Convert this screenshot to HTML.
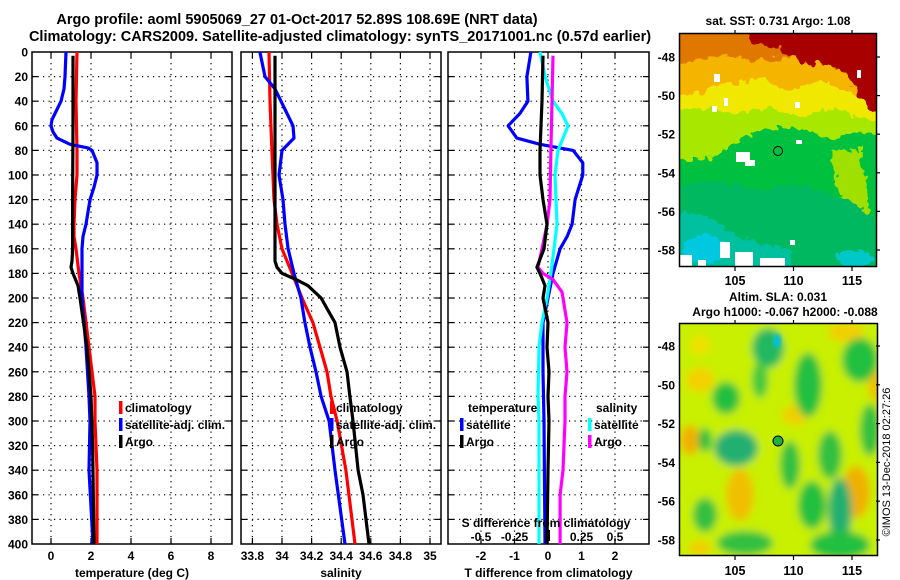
<!DOCTYPE html>
<html><head><meta charset="utf-8"><style>
html,body{margin:0;padding:0;background:#fff;}
svg{display:block;font-family:"Liberation Sans",sans-serif;font-weight:bold;}
</style></head><body>
<svg id="chart" width="900" height="580" viewBox="0 0 900 580" xmlns="http://www.w3.org/2000/svg">
<defs>
<clipPath id="clipMap1"><rect x="680" y="34" width="197" height="233"/></clipPath>
<clipPath id="clipMap2"><rect x="680" y="324" width="198" height="232"/></clipPath>
<filter id="rough1" x="-10%" y="-10%" width="120%" height="120%">
<feTurbulence type="fractalNoise" baseFrequency="0.12" numOctaves="2" seed="3" result="n"/>
<feDisplacementMap in="SourceGraphic" in2="n" scale="14" xChannelSelector="R" yChannelSelector="G"/>
</filter>
<filter id="blur1" x="-10%" y="-10%" width="120%" height="120%"><feGaussianBlur stdDeviation="2"/></filter>
<filter id="blur2" x="-10%" y="-10%" width="120%" height="120%"><feGaussianBlur stdDeviation="4"/></filter>
</defs>
<g id="titles" font-size="14.5" text-anchor="middle">
<text x="297" y="24">Argo profile: aoml 5905069_27 01-Oct-2017 52.89S 108.69E (NRT data)</text>
<text x="340" y="41">Climatology: CARS2009. Satellite-adjusted climatology: synTS_20171001.nc (0.57d earlier)</text>
</g>
<g id="panels"></g>

<!-- Map 1: SST -->
<g>
<text x="778" y="25" font-size="12" text-anchor="middle">sat. SST: 0.731 Argo: 1.08</text>
<g clip-path="url(#clipMap1)">
<g filter="url(#rough1)">
<rect x="670" y="24" width="220" height="260" fill="#00c040"/>
<path d="M670 24 H890 V140 L860 132 L830 140 L800 128 L760 128 L740 140 L710 158 L670 160 Z" fill="#a8e800"/>
<path d="M670 24 H890 V122 L860 118 L830 108 L800 118 L770 108 L740 112 L700 108 L670 112 Z" fill="#f0e800"/>
<path d="M670 24 H890 V100 L850 92 L820 80 L790 90 L760 80 L720 85 L690 95 L670 92 Z" fill="#f4b400"/>
<path d="M670 24 H890 V60 L840 55 L800 55 L760 60 L720 55 L690 62 L670 60 Z" fill="#e07800"/>
<path d="M750 24 H890 V120 L870 110 L860 95 L850 80 L830 65 L800 62 L780 50 L750 40 Z" fill="#a80000"/>
<path d="M830 150 L860 150 L870 200 L860 240 L845 225 L838 190 Z" fill="#a0e000"/>
<path d="M670 185 L720 180 L760 190 L800 185 L850 200 L890 230 V284 H670 Z" fill="#00b860"/>
<path d="M670 215 L700 212 L730 230 L760 245 L790 250 V284 H670 Z" fill="#00c0a0"/>
<ellipse cx="705" cy="248" rx="22" ry="14" fill="#00c8e0"/>
<ellipse cx="855" cy="258" rx="18" ry="8" fill="#00c8c8"/>
</g>
<rect x="680" y="255" width="12" height="12" fill="#fff"/>
<rect x="698" y="260" width="8" height="7" fill="#fff"/>
<rect x="720" y="242" width="10" height="16" fill="#fff"/>
<rect x="735" y="252" width="18" height="15" fill="#fff"/>
<rect x="760" y="258" width="25" height="9" fill="#fff"/>
<rect x="736" y="152" width="14" height="10" fill="#fff"/>
<rect x="745" y="160" width="10" height="6" fill="#fff"/>
<rect x="712" y="106" width="5" height="6" fill="#fff"/>
<rect x="714" y="74" width="6" height="8" fill="#fff"/>
<rect x="724" y="98" width="4" height="8" fill="#fff"/>
<rect x="796" y="140" width="6" height="4" fill="#fff"/>
<rect x="795" y="102" width="5" height="6" fill="#fff"/>
<rect x="857" y="70" width="4" height="8" fill="#fff"/>
<rect x="790" y="240" width="5" height="5" fill="#fff"/>
</g>
<rect x="679.5" y="33.5" width="197" height="233" fill="none" stroke="#000" stroke-width="1.5"/>
<circle cx="778" cy="151" r="4.5" fill="none" stroke="#000" stroke-width="1"/>
</g>

<!-- Map 2: SLA -->
<g>
<text x="778" y="301" font-size="12" text-anchor="middle">Altim. SLA: 0.031</text>
<text x="785" y="316" font-size="12" text-anchor="middle">Argo h1000: -0.067 h2000: -0.088</text>
<g clip-path="url(#clipMap2)">
<g filter="url(#blur2)">
<rect x="670" y="314" width="220" height="252" fill="#c8f000"/>
<ellipse cx="700" cy="380" rx="14" ry="12" fill="#f4d000"/>
<ellipse cx="690" cy="440" rx="10" ry="15" fill="#f0b000"/>
<ellipse cx="740" cy="495" rx="14" ry="26" fill="#f0c000"/>
<ellipse cx="856" cy="492" rx="14" ry="26" fill="#f0b000"/>
<ellipse cx="795" cy="415" rx="13" ry="10" fill="#f0d000"/>
<ellipse cx="846" cy="332" rx="18" ry="10" fill="#f0d000"/>
<ellipse cx="876" cy="385" rx="8" ry="16" fill="#f0c000"/>
<ellipse cx="700" cy="345" rx="10" ry="10" fill="#f0e000"/>
<ellipse cx="768" cy="348" rx="16" ry="20" fill="#20b860"/>
<ellipse cx="808" cy="385" rx="14" ry="32" fill="#20c040"/>
<ellipse cx="860" cy="360" rx="18" ry="22" fill="#20c040"/>
<ellipse cx="726" cy="398" rx="14" ry="16" fill="#20c040"/>
<ellipse cx="736" cy="448" rx="22" ry="18" fill="#20b070"/>
<ellipse cx="705" cy="440" rx="7" ry="12" fill="#20c040"/>
<ellipse cx="790" cy="465" rx="10" ry="24" fill="#30c040"/>
<ellipse cx="812" cy="505" rx="14" ry="24" fill="#20c040"/>
<ellipse cx="830" cy="455" rx="12" ry="24" fill="#30c040"/>
<ellipse cx="840" cy="510" rx="12" ry="32" fill="#20b070"/>
<ellipse cx="840" cy="545" rx="30" ry="14" fill="#20c040"/>
<ellipse cx="705" cy="515" rx="12" ry="17" fill="#30c040"/>
<ellipse cx="745" cy="543" rx="28" ry="12" fill="#30c040"/>
<ellipse cx="870" cy="430" rx="10" ry="26" fill="#30c040"/>
<ellipse cx="760" cy="380" rx="8" ry="18" fill="#40c840"/>
<ellipse cx="700" cy="548" rx="12" ry="8" fill="#f0d000"/>
</g>
<ellipse cx="777" cy="341" rx="4" ry="7" fill="#00c0e0" filter="url(#blur1)"/>
</g>
<rect x="679.5" y="323.5" width="198" height="232" fill="none" stroke="#000" stroke-width="1.5"/>
<circle cx="778" cy="441" r="5" fill="#20b040" stroke="#000" stroke-width="1"/>
<text x="890" y="462" font-size="11" font-weight="normal" text-anchor="middle" transform="rotate(-90 890 462)">©IMOS 13-Dec-2018 02:27:26</text>
</g>
<g id="maps-axes"></g>

<script>
// ---------- DATA ----------
var depthTicks = [0,20,40,60,80,100,120,140,160,180,200,220,240,260,280,300,320,340,360,380,400];
var tempTicks = [0,2,4,6,8];
var salTicks = [33.8,34,34.2,34.4,34.6,34.8,35];
var salTickLabels = ["33.8","34","34.2","34.4","34.6","34.8","35"];
var tdiffTicks = [-2,-1,0,1,2];
var sdiffTicks = [-0.5,-0.25,0.25,0.5];
var sdiffTickLabels = ["-0.5","-0.25","0.25","0.5"];
var latTicks = [-48,-50,-52,-54,-56,-58];
var lonTicks = [105,110,115];

var tempClimDepth = [0,40,80,100,120,140,150,160,180,200,240,280,300,340,400];
var tempClim = [1.3,1.25,1.3,1.3,1.2,1.15,1.15,1.25,1.4,1.6,1.9,2.2,2.2,2.3,2.3];
var tempArgoDepth = [3,60,120,160,170,175,180,190,200,240,280,320,400];
var tempArgo = [1.1,1.1,1.08,1.08,1.05,1.0,1.1,1.35,1.45,1.8,2.0,2.08,2.15];
var tempSatDepth = [0,20,30,40,50,55,60,65,70,75,78,80,90,100,110,120,140,150,160,200,240,280,300,340,400];
var tempSat = [0.75,0.7,0.65,0.5,0.2,0.05,0.0,0.1,0.3,0.95,1.85,2.05,2.3,2.3,2.15,1.95,1.75,1.6,1.55,1.55,1.75,1.9,1.95,1.9,2.1];

var salClimDepth = [0,40,80,120,140,160,180,200,220,240,260,280,300,340,400];
var salClim = [33.912,33.919,33.932,33.946,33.966,34.0,34.068,34.135,34.209,34.257,34.304,34.331,34.372,34.432,34.493];
var salArgoDepth = [3,170,175,180,185,190,200,210,220,240,260,280,300,340,360,400];
var salArgo = [33.953,33.953,33.966,34.0,34.095,34.176,34.264,34.311,34.358,34.392,34.439,34.459,34.480,34.514,34.547,34.588];
var salSatDepth = [0,20,30,40,50,60,70,80,100,120,140,160,180,200,220,240,260,280,300,340,400];
var salSat = [33.851,33.885,33.953,33.993,34.034,34.074,34.081,34.0,33.980,34.007,34.020,34.041,34.081,34.128,34.155,34.189,34.230,34.264,34.318,34.358,34.426];

var tdSatDepth = [0,20,40,50,60,70,75,80,90,100,120,140,150,160,180,200,220,260,300,400];
var tdSat = [-0.51,-0.63,-0.6,-0.84,-1.19,-0.93,-0.24,0.75,1.04,1.04,0.81,0.72,0.57,0.36,0.15,0,-0.15,-0.15,-0.12,-0.09];
var tdArgoDepth = [3,40,80,100,120,140,160,175,180,190,200,220,240,260,280,300,340,400];
var tdArgo = [-0.15,-0.18,-0.24,-0.24,-0.15,-0.03,-0.12,-0.33,-0.24,-0.09,-0.15,0,-0.03,0.03,0,0.03,0,-0.03];
var sdSatDepth = [0,20,40,50,60,70,80,100,140,160,180,200,220,240,280,300,400];
var sdSat = [-0.06,-0.022,0.037,0.104,0.149,0.112,0.075,0.052,0.067,0.045,0.022,-0.007,-0.045,-0.067,-0.075,-0.067,-0.067];
var sdArgoDepth = [3,40,80,120,140,160,175,180,185,195,200,220,240,260,280,300,340,360,400];
var sdArgo = [0.037,0.03,0.022,0.015,-0.007,-0.045,-0.075,-0.037,0.037,0.104,0.112,0.142,0.127,0.142,0.127,0.127,0.112,0.09,0.09];

// ---------- AXES ----------
var NS = "http://www.w3.org/2000/svg";
function yDepth(d){ return 52 + d * 1.23; }
function xTemp(t){ return 51 + t * 20; }
function xSal(s){ return 282 + (s - 34) * 148; }
function xTd(v){ return 548 + v * 33.5; }
function xSd(v){ return 548 + v * 134; }
function yLat1(l){ return 57 + (-48 - l) * 19.3; }
function xLon1(l){ return 735 + (l - 105) * 11.7; }
function yLat2(l){ return 346 + (-48 - l) * 19.4; }

function mk(tag, attrs, parent){
  var e = document.createElementNS(NS, tag);
  for (var k in attrs) e.setAttribute(k, attrs[k]);
  parent.appendChild(e);
  return e;
}
var panels = document.getElementById('panels');

function drawPanel(name, x0, x1, xTicks, xFn, xLabels, xTitle){
  var g = mk('g', {}, panels);
  
  
  var i, y, x;
  for (i = 1; i < depthTicks.length - 1; i++){
    y = yDepth(depthTicks[i]);
    var gl = mk('line', {x1:x0, x2:x1, y1:y, y2:y, stroke:'#000', 'stroke-width':1.2, 'stroke-dasharray':'1.2 4.3'}, g);
    
    
    mk('line', {x1:x0, x2:x0+6, y1:y, y2:y, stroke:'#000', 'stroke-width':1.2}, g);
    mk('line', {x1:x1-6, x2:x1, y1:y, y2:y, stroke:'#000', 'stroke-width':1.2}, g);
  }
  for (i = 0; i < xTicks.length; i++){
    x = xFn(xTicks[i]);
    var vl = mk('line', {x1:x, x2:x, y1:yDepth(0), y2:yDepth(400), stroke:'#000', 'stroke-width':1.2, 'stroke-dasharray':'1.2 4.3'}, g);
    
    
    mk('line', {x1:x, x2:x, y1:yDepth(400)-6, y2:yDepth(400), stroke:'#000', 'stroke-width':1.2}, g);
    mk('line', {x1:x, x2:x, y1:yDepth(0), y2:yDepth(0)+6, stroke:'#000', 'stroke-width':1.2}, g);
    var t = mk('text', {x:x, y:560, 'font-size':12, 'text-anchor':'middle'}, g);
    
    
    t.textContent = xLabels[i];
  }
  var fr = mk('rect', {x:x0, y:yDepth(0), width:x1-x0, height:yDepth(400)-yDepth(0), fill:'none', stroke:'#000', 'stroke-width':1.5}, g);
  
  
  var tt = mk('text', {x:(x0+x1)/2, y:577, 'font-size':12, 'text-anchor':'middle'}, g);
  
  
  tt.textContent = xTitle;
  return g;
}

function drawLine(g, name, depths, vals, xFn, color){
  var pts = [];
  for (var i = 0; i < depths.length; i++) pts.push(xFn(vals[i]).toFixed(1) + ',' + yDepth(depths[i]).toFixed(1));
  var p = mk('polyline', {points:pts.join(' '), fill:'none', stroke:color, 'stroke-width':3.2, 'stroke-linejoin':'round'}, g);
  
  
}

function legendEntry(g, name, x, y, color, label){
  var r = mk('rect', {x:x, y:y-10, width:3.5, height:13, fill:color}, g);
  
  
  var t = mk('text', {x:x+6, y:y+1, 'font-size':12}, g);
  
  
  t.textContent = label;
}

for (var di = 0; di < depthTicks.length; di++){
  var dl = mk('text', {x:28, y:yDepth(depthTicks[di])+4.5, 'font-size':12, 'text-anchor':'end'}, panels);
  
  
  dl.textContent = depthTicks[di];
}

var tempLabels = tempTicks.map(String);
var g1 = drawPanel('temperature', 32, 232, tempTicks, xTemp, tempLabels, 'temperature (deg C)');
drawLine(g1, 'temp-climatology-line', tempClimDepth, tempClim, xTemp, '#ff0000');
drawLine(g1, 'temp-satellite-line', tempSatDepth, tempSat, xTemp, '#0000ff');
drawLine(g1, 'temp-argo-line', tempArgoDepth, tempArgo, xTemp, '#000000');
legendEntry(g1, 'legend-climatology', 119, 411, '#ff0000', 'climatology');
legendEntry(g1, 'legend-satellite-adj', 119, 428, '#0000ff', 'satellite-adj. clim.');
legendEntry(g1, 'legend-argo', 119, 445, '#000000', 'Argo');

var g2 = drawPanel('salinity', 241, 441, salTicks, xSal, salTickLabels, 'salinity');
drawLine(g2, 'sal-climatology-line', salClimDepth, salClim, xSal, '#ff0000');
drawLine(g2, 'sal-satellite-line', salSatDepth, salSat, xSal, '#0000ff');
drawLine(g2, 'sal-argo-line', salArgoDepth, salArgo, xSal, '#000000');
legendEntry(g2, 'legend-sal-climatology', 330, 411, '#ff0000', 'climatology');
legendEntry(g2, 'legend-sal-satellite-adj', 330, 428, '#0000ff', 'satellite-adj. clim.');
legendEntry(g2, 'legend-sal-argo', 330, 445, '#000000', 'Argo');

var g3 = drawPanel('difference', 448, 649, tdiffTicks, xTd, tdiffTicks.map(String), 'T difference from climatology');
drawLine(g3, 'tdiff-satellite-line', tdSatDepth, tdSat, xTd, '#0000ff');
drawLine(g3, 'sdiff-satellite-line', sdSatDepth, sdSat, xSd, '#00ffff');
drawLine(g3, 'sdiff-argo-line', sdArgoDepth, sdArgo, xSd, '#ff00ff');
drawLine(g3, 'tdiff-argo-line', tdArgoDepth, tdArgo, xTd, '#000000');
var lt = mk('text', {x:468, y:412, 'font-size':12}, g3);


lt.textContent = 'temperature';
var ls = mk('text', {x:596, y:412, 'font-size':12}, g3);


ls.textContent = 'salinity';
legendEntry(g3, 'legend-t-satellite', 460, 428, '#0000ff', 'satellite');
legendEntry(g3, 'legend-t-argo', 460, 445, '#000000', 'Argo');
legendEntry(g3, 'legend-s-satellite', 588, 428, '#00ffff', 'satellite');
legendEntry(g3, 'legend-s-argo', 588, 445, '#ff00ff', 'Argo');
var st = mk('text', {x:546, y:527, 'font-size':12, 'text-anchor':'middle'}, g3);


st.textContent = 'S difference from climatology';
for (var si = 0; si < sdiffTicks.length; si++){
  var sl = mk('text', {x:xSd(sdiffTicks[si]), y:541, 'font-size':12, 'text-anchor':'middle'}, g3);
  
  
  sl.textContent = sdiffTickLabels[si];
}
var zb = mk('rect', {x:545, y:530, width:5, height:11, fill:'#000'}, g3);



var ma = document.getElementById('maps-axes');
function mapAxes(name, yFn, yTop, yBot, lonY){
  for (var i = 0; i < latTicks.length; i++){
    var y = yFn(latTicks[i]);
    mk('line', {x1:876, x2:880, y1:y, y2:y, stroke:'#000', 'stroke-width':1.2}, ma);
    var t = mk('text', {x:675, y:y+4.5, 'font-size':12, 'text-anchor':'end'}, ma);
    
    
    t.textContent = latTicks[i];
  }
  for (var j = 0; j < lonTicks.length; j++){
    var x = xLon1(lonTicks[j]);
    mk('line', {x1:x, x2:x, y1:yTop-4, y2:yTop, stroke:'#000', 'stroke-width':1.2}, ma);
    mk('line', {x1:x, x2:x, y1:yBot, y2:yBot+4, stroke:'#000', 'stroke-width':1.2}, ma);
    var l = mk('text', {x:x, y:lonY, 'font-size':12.5, 'text-anchor':'middle'}, ma);
    
    
    l.textContent = lonTicks[j];
  }
}
mapAxes('sst-map', yLat1, 34, 267, 285);
mapAxes('sla-map', yLat2, 324, 556, 575);
</script>
</svg>
</body></html>
